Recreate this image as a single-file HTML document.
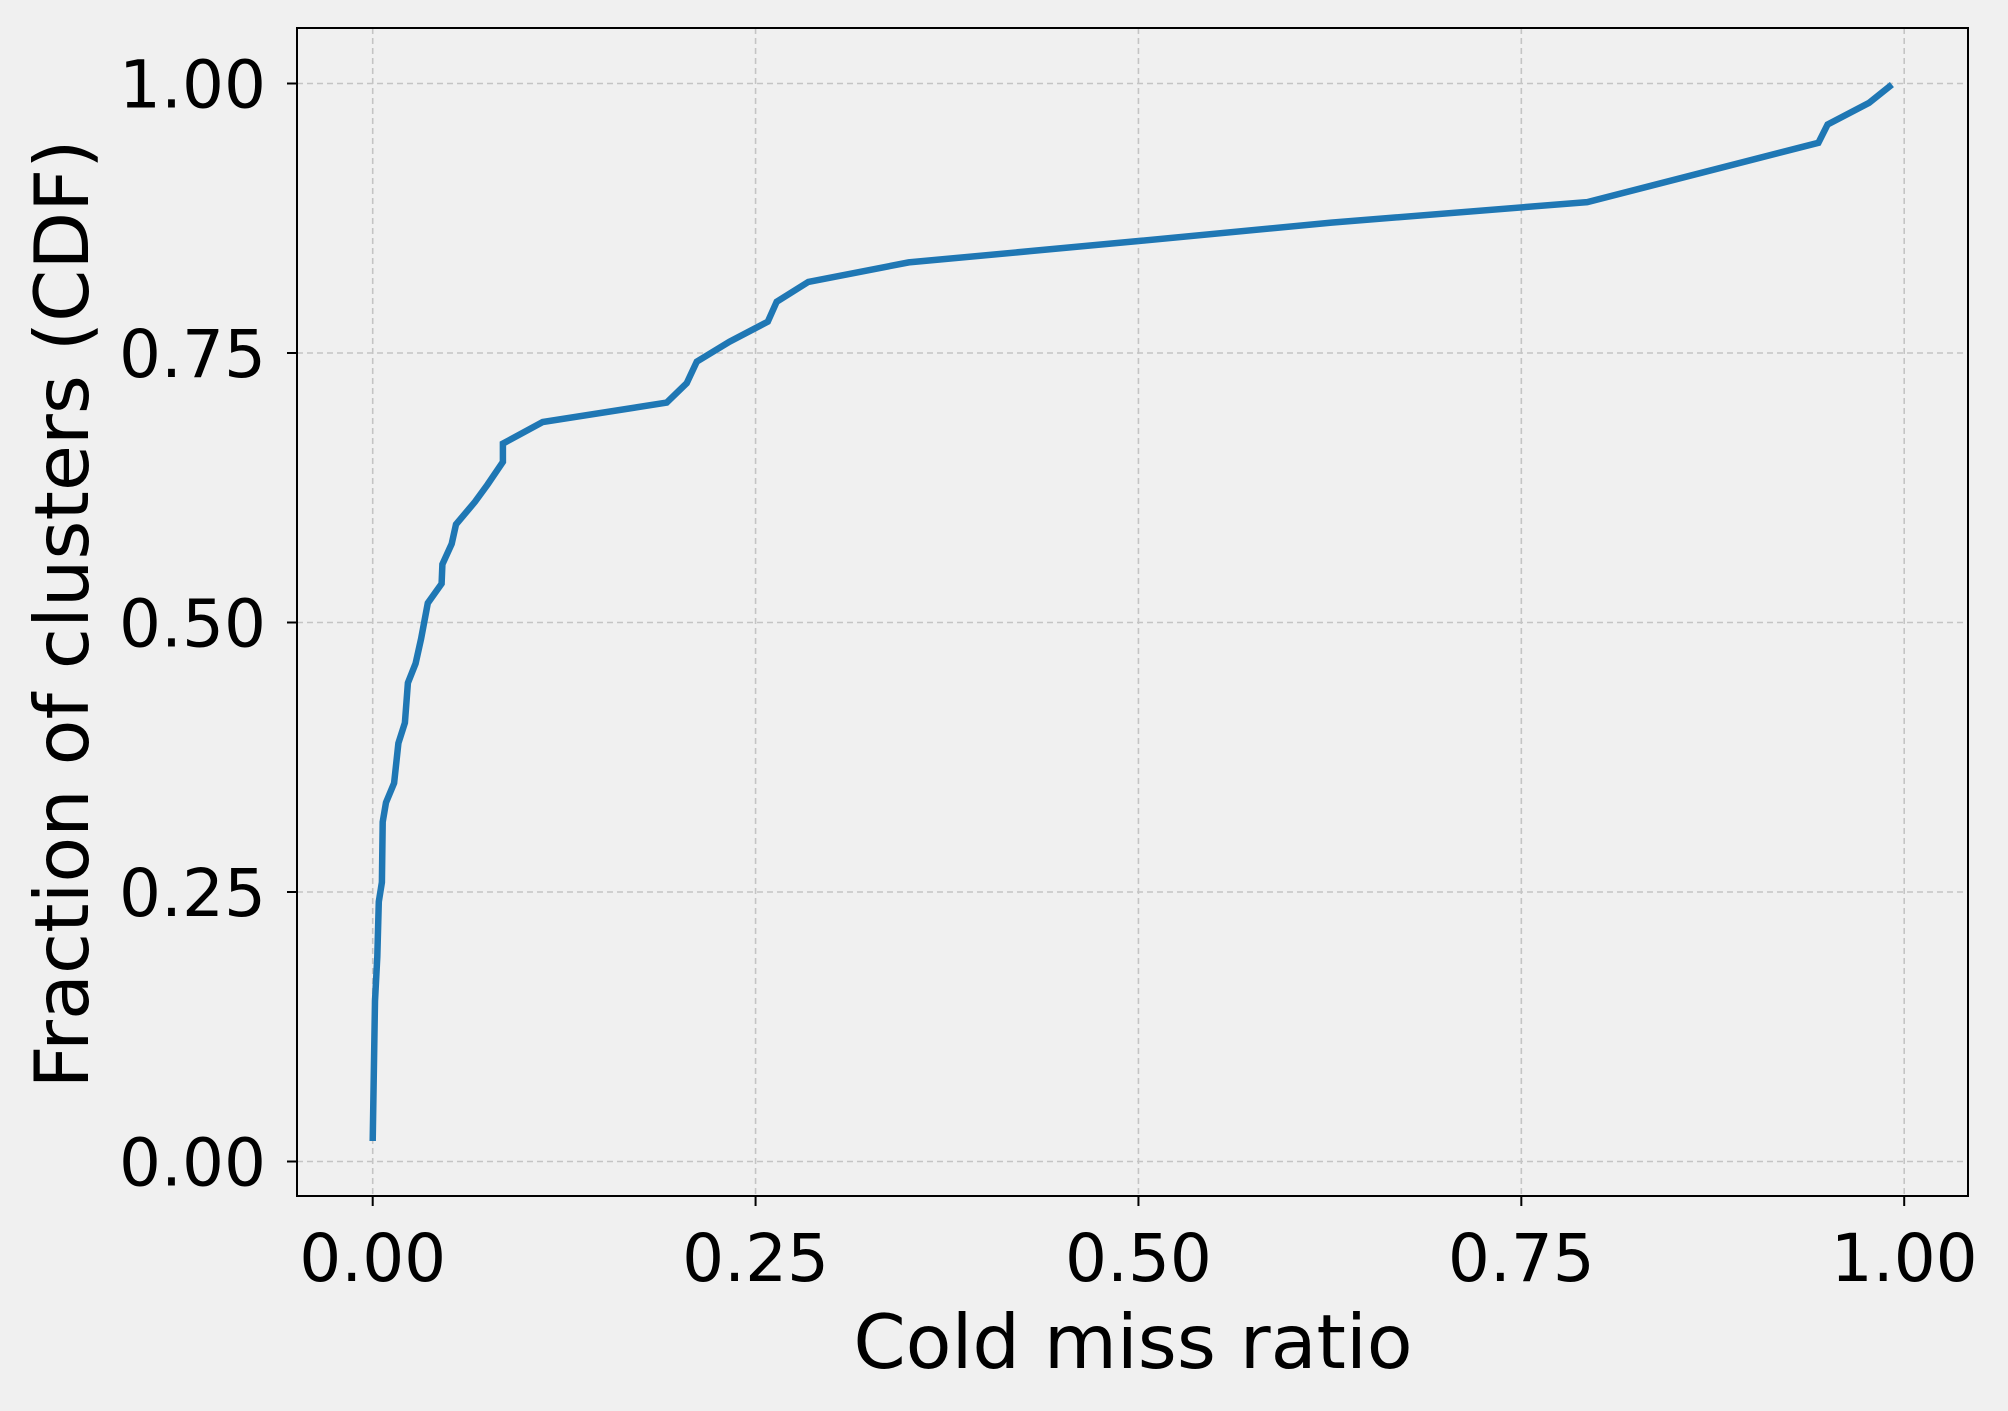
<!DOCTYPE html>
<html><head><meta charset="utf-8"><style>
html,body{margin:0;padding:0;background:#f0f0f0;}
svg{display:block;}
text{font-family:"DejaVu Sans","Liberation Sans",sans-serif;fill:#000;}
</style></head><body>
<svg id="chart" width="2008" height="1411" viewBox="0 0 2008 1411">
<rect x="0" y="0" width="2008" height="1411" fill="#f0f0f0"/>
<rect x="297" y="28" width="1671" height="1168" fill="#f0f0f0"/>
<g id="grid"></g><g id="series"></g><g id="ticks"></g>
<rect x="297" y="28" width="1671" height="1168" fill="none" stroke="#000" stroke-width="2"/>
<text x="1133" y="1368" font-size="75" text-anchor="middle">Cold miss ratio</text>
<text transform="translate(88,614) rotate(-90)" font-size="75" text-anchor="middle">Fraction of clusters (CDF)</text>
</svg>
<script>
const xVals=[0,0.0015,0.003,0.004,0.006,0.0065,0.0087,0.014,0.0168,0.021,0.023,0.028,0.0316,0.036,0.045,0.0455,0.0516,0.0544,0.0668,0.075,0.085,0.085,0.111,0.192,0.205,0.2116,0.233,0.258,0.2638,0.2844,0.350,0.501,0.626,0.793,0.944,0.950,0.977,0.992];
const yVals=[0.019,0.149,0.19,0.241,0.259,0.315,0.333,0.351,0.388,0.407,0.444,0.462,0.485,0.518,0.536,0.554,0.573,0.591,0.612,0.628,0.649,0.666,0.686,0.704,0.722,0.742,0.7605,0.779,0.7976,0.816,0.834,0.854,0.871,0.890,0.945,0.962,0.982,0.999];
const xTicks=[0,0.25,0.5,0.75,1.0];
const yTicks=[0,0.25,0.5,0.75,1.0];
const xTickLabels=["0.00","0.25","0.50","0.75","1.00"];
const yTickLabels=["0.00","0.25","0.50","0.75","1.00"];
const NS="http://www.w3.org/2000/svg";
function sx(v){return 372.7+v*1531.5;}
function sy(v){return 1161.5-v*1078;}
function mk(tag,attrs,parent){const e=document.createElementNS(NS,tag);for(const k in attrs)e.setAttribute(k,attrs[k]);parent.appendChild(e);return e;}
const grid=document.getElementById('grid'),ticks=document.getElementById('ticks'),series=document.getElementById('series');
xTicks.forEach((t,i)=>{
 const g=mk('line',{x1:sx(t),x2:sx(t),y1:28,y2:1196,stroke:'#c4c4c4','stroke-width':1.6,'stroke-dasharray':'6,4'},grid);
 
 
 const tk=mk('line',{x1:sx(t),x2:sx(t),y1:1196,y2:1206,stroke:'#000','stroke-width':2},ticks);
 
 
 const tl=mk('text',{x:sx(t),y:1281,'font-size':66,'text-anchor':'middle'},ticks);
 tl.textContent=xTickLabels[i];
 
 
});
yTicks.forEach((t,i)=>{
 const g=mk('line',{x1:297,x2:1968,y1:sy(t),y2:sy(t),stroke:'#c4c4c4','stroke-width':1.6,'stroke-dasharray':'6,4'},grid);
 
 
 const tk=mk('line',{x1:287,x2:297,y1:sy(t),y2:sy(t),stroke:'#000','stroke-width':2},ticks);
 
 
 const tl=mk('text',{x:266,y:sy(t)+24,'font-size':66,'text-anchor':'end'},ticks);
 tl.textContent=yTickLabels[i];
 
 
});
const pts=xVals.map((v,i)=>sx(v).toFixed(1)+','+sy(yVals[i]).toFixed(1)).join(' ');
const line=mk('polyline',{points:pts,fill:'none',stroke:'#1f77b4','stroke-width':6.5,'stroke-linejoin':'miter'},series);


</script>
</body></html>
